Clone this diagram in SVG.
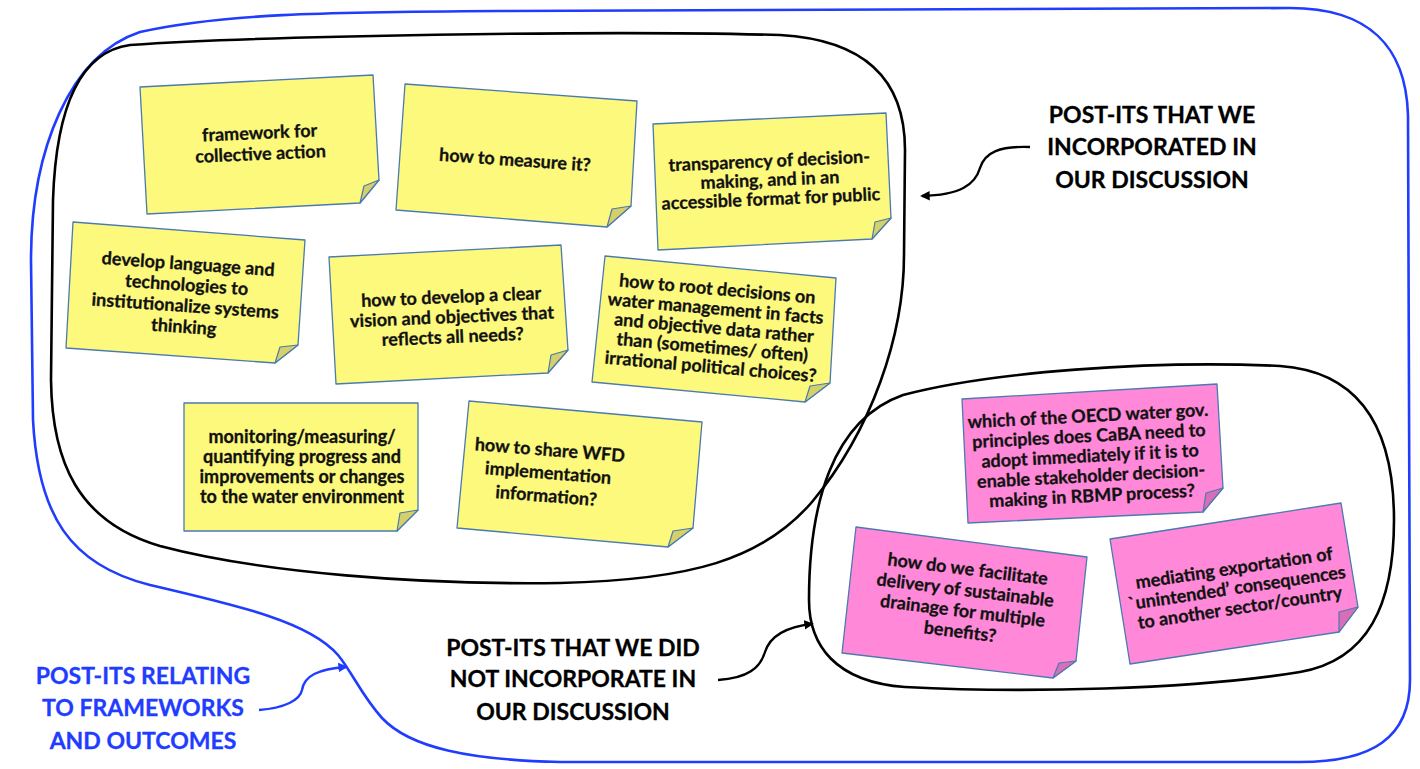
<svg xmlns="http://www.w3.org/2000/svg" width="1420" height="769" viewBox="0 0 1420 769">
<defs>
<style>
.ny{fill:#fcf97c;stroke:#4a7ab0;stroke-width:1.3;stroke-linejoin:round}
.cy{fill:#d6d06a;stroke:#4a7ab0;stroke-width:1.2;stroke-linejoin:round}
.np{fill:#ff88d8;stroke:#4a7ab0;stroke-width:1.3;stroke-linejoin:round}
.cp{fill:#d86fb6;stroke:#4a7ab0;stroke-width:1.2;stroke-linejoin:round}
.t{font-family:Lato,"Liberation Sans",sans-serif;font-weight:700;font-size:18px;fill:#111;stroke:#111;stroke-width:0.3;text-anchor:middle}
.lb{font-family:Lato,"Liberation Sans",sans-serif;font-weight:700;font-size:23px;fill:#000;stroke:#000;stroke-width:0.3;text-anchor:middle}
.lbb{fill:#1f3cff;stroke:#1f3cff}
.ob{fill:none;stroke:#1f3cff;stroke-width:2.6}
.ok{fill:none;stroke:#000;stroke-width:2.6}
.ck{fill:none;stroke:#000;stroke-width:2.4}
.cb{fill:none;stroke:#1f3cff;stroke-width:2.4}
</style>
<marker id="ak" viewBox="0 0 10 10" refX="8" refY="5" markerWidth="4" markerHeight="4" orient="auto"><path d="M0,0 L10,5 L0,10 z" fill="#000"/></marker>
<marker id="ab" viewBox="0 0 10 10" refX="8" refY="5" markerWidth="4" markerHeight="4" orient="auto"><path d="M0,0 L10,5 L0,10 z" fill="#1f3cff"/></marker>
</defs>
<rect width="1420" height="769" fill="#fff"/>

<g id="outlines">
<path id="outer-blue" class="ob" d="M140,32 C220,14 320,12 500,11 L1290,8 C1370,8 1406,48 1408,115 L1410,680 C1410,738 1372,762 1300,762 L560,762 C470,760 410,748 382,718 C362,696 352,672 338,655 C310,622 240,606 150,585 C70,565 38,515 33,420 L31,260 C31,150 70,55 140,32 Z"/>
<path id="inner-incorporated" class="ok" d="M130,45 C260,36 600,30 780,35 C868,40 905,82 905,150 L904,255 C904,335 872,430 812,502 C762,560 690,580 560,583 C420,585 262,573 160,546 C78,522 52,462 51,380 L53,200 C56,110 78,52 130,45 Z"/>
<path id="inner-not" class="ok" d="M903,395 C990,372 1150,360 1280,366 C1365,372 1394,435 1394,520 C1394,605 1368,660 1300,672 C1190,690 1020,693 905,687 C835,682 809,645 809,600 C809,505 832,420 903,395 Z"/>
</g>

<g id="connectors">
<path class="ck" d="M1030,147 C1000,146 985,152 980,168 C975,185 960,195 922,196" marker-end="url(#ak)"/>
<path class="ck" d="M718,680 C748,678 760,668 765,652 C770,636 785,627 812,624" marker-end="url(#ak)"/>
<path class="cb" d="M259,710 C285,708 300,700 302,690 C304,676 318,669 346,667" marker-end="url(#ab)"/>
</g>

<g id="note-framework">
<polygon class="ny" points="140,87 373,75 379,180 360,203 147,214"/>
<polygon class="cy" points="379,180 360,203 364,186"/>
<g transform="rotate(-2.5 260 143)"><text class="t" x="260" y="139">framework for</text><text class="t" x="260" y="160">collective action</text></g>
</g>

<g id="note-measure">
<polygon class="ny" points="405,84 637,101 631,206 607,227 396,210"/>
<polygon class="cy" points="631,206 607,227 612,209"/>
<g transform="rotate(4 515 160)"><text class="t" x="515" y="166">how to measure it?</text></g>
</g>

<g id="note-transparency">
<polygon class="ny" points="653,124 886,113 891,218 872,239 658,250"/>
<polygon class="cy" points="891,218 872,239 875,222"/>
<g transform="rotate(-2.5 770 180)"><text class="t" x="770" y="167">transparency of decision-</text><text class="t" x="770" y="186">making, and in an</text><text class="t" x="770" y="205">accessible  format for public</text></g>
</g>

<g id="note-language">
<polygon class="ny" points="73,222 305,240 298,345 275,363 66,348"/>
<polygon class="cy" points="298,345 275,363 280,347"/>
<g transform="rotate(4 186 295)"><text class="t" x="186" y="270">develop language  and</text><text class="t" x="186" y="291">technologies to</text><text class="t" x="186" y="312">institutionalize systems</text><text class="t" x="186" y="333">thinking</text></g>
</g>

<g id="note-vision">
<polygon class="ny" points="329,257 561,245 568,350 548,373 336,384"/>
<polygon class="cy" points="568,350 548,373 551,355"/>
<g transform="rotate(-2.5 452 317)"><text class="t" x="452" y="303">how to develop a  clear</text><text class="t" x="452" y="323">vision  and objectives that</text><text class="t" x="452" y="343">reflects all  needs?</text></g>
</g>

<g id="note-root">
<polygon class="ny" points="605,256 836,278 830,383 805,402 592,382"/>
<polygon class="cy" points="830,383 805,402 810,386"/>
<g transform="rotate(5 714 328)"><text class="t" x="714" y="295">how to root decisions  on</text><text class="t" x="714" y="314.5">water management in facts</text><text class="t" x="714" y="334">and objective data rather</text><text class="t" x="714" y="353.5">than (sometimes/ often)</text><text class="t" x="714" y="373">irrational political  choices?</text></g>
</g>

<g id="note-monitoring">
<polygon class="ny" points="184,403 418,403 418,510 397,531 184,531"/>
<polygon class="cy" points="418,510 397,531 400,513"/>
<text class="t" x="302" y="443">monitoring/measuring/</text><text class="t" x="302" y="463">quantifying  progress and</text><text class="t" x="302" y="483">improvements or changes</text><text class="t" x="302" y="503">to the water environment</text>
</g>

<g id="note-share">
<polygon class="ny" points="469,401 702,422 693,528 668,547 457,528"/>
<polygon class="cy" points="693,528 668,547 673,531"/>
<g transform="rotate(4.5 548 474)"><text class="t" x="548" y="456">how to share WFD</text><text class="t" x="548" y="479">implementation</text><text class="t" x="548" y="502">information?</text></g>
</g>

<g id="note-oecd">
<polygon class="np" points="962,399 1217,384 1223,488 1203,512 968,523"/>
<polygon class="cp" points="1223,488 1203,512 1206,493"/>
<g transform="rotate(-3 1090 456)"><text class="t" x="1090" y="422">which of the OECD water gov.</text><text class="t" x="1090" y="442">principles does CaBA need to</text><text class="t" x="1090" y="462">adopt immediately if it is to</text><text class="t" x="1090" y="482">enable stakeholder decision-</text><text class="t" x="1090" y="502">making in RBMP  process?</text></g>
</g>

<g id="note-drainage">
<polygon class="np" points="856,527 1087,557 1076,661 1053,678 842,653"/>
<polygon class="cp" points="1076,661 1053,678 1059,663"/>
<g transform="rotate(7 964 600)"><text class="t" x="964" y="575">how do we facilitate</text><text class="t" x="964" y="596">delivery of sustainable</text><text class="t" x="964" y="617">drainage for multiple</text><text class="t" x="964" y="638">benefits?</text></g>
</g>

<g id="note-mediating">
<polygon class="np" points="1110,539 1341,503 1358,607 1339,632 1130,664"/>
<polygon class="cp" points="1358,607 1339,632 1339,612"/>
<g transform="rotate(-8.5 1237 588)"><text class="t" x="1237" y="574">mediating exportation of</text><text class="t" x="1237" y="594">`unintended’ consequences</text><text class="t" x="1237" y="614">to another sector/country</text></g>
</g>

<g id="label-incorporated">
<text class="lb" x="1152" y="123">POST-ITS THAT WE</text><text class="lb" x="1152" y="155">INCORPORATED IN</text><text class="lb" x="1152" y="188">OUR DISCUSSION</text>
</g>
<g id="label-not">
<text class="lb" x="573" y="656">POST-ITS THAT WE DID</text><text class="lb" x="573" y="687">NOT INCORPORATE IN</text><text class="lb" x="573" y="720">OUR DISCUSSION</text>
</g>
<g id="label-frameworks">
<text class="lb lbb" x="143" y="684">POST-ITS RELATING</text><text class="lb lbb" x="143" y="716">TO FRAMEWORKS</text><text class="lb lbb" x="143" y="749">AND OUTCOMES</text>
</g>
</svg>
